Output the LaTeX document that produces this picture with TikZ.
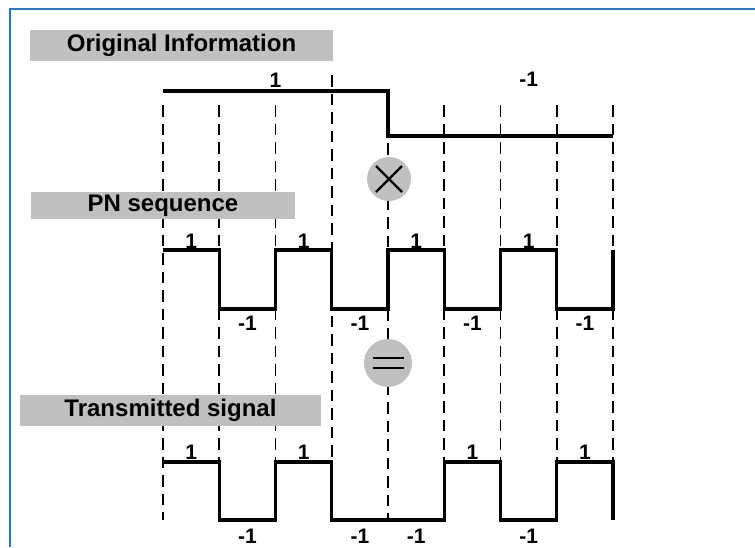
\documentclass[tikz,border=0pt]{standalone}
\usepackage{fontspec}
\setmainfont{Liberation Sans}

\definecolor{boxgray}{RGB}{192,192,192}
\definecolor{frameblue}{RGB}{31,122,212}

\tikzset{
    chipline/.style={line width=1.6pt, dash pattern=on 11.5pt off 7pt},
    wave/.style={line width=3.2pt, line join=miter},
    titlebox/.style={fill=boxgray, inner sep=0pt, font=\fontsize{24}{24}\selectfont\bfseries},
    lvl/.style={inner sep=0pt, font=\fontsize{21}{21}\selectfont\bfseries},
    opcircle/.style={circle, fill=boxgray, inner sep=0pt}
}

\begin{document}
\begin{tikzpicture}[x=1pt, y=-1pt]
    % Left edge of the time axis and the width of one chip
    \def\xo{163}
    \def\chip{56.25}

    % High and low levels of the three signals
    \def\infohi{91}
    \def\infolo{136}
    \def\pnhi{250}
    \def\pnlo{309}
    \def\txhi{462}
    \def\txlo{520}

    \useasboundingbox (0, 0) rectangle (755, 547);

    % Frame, only its left and top edges are seen
    \draw[frameblue, line width=2pt] (10, 547) -- (10, 9) -- (755, 9);

    % Chip boundaries
    \draw[chipline] (\xo, 105) -- (\xo, \txlo);
    \draw[chipline] (\xo + \chip, 105) -- (\xo + \chip, \txlo);
    \draw[chipline] (\xo + 2*\chip, 105) -- (\xo + 2*\chip, \txlo);
    \draw[chipline] (\xo + 3*\chip, 75) -- (\xo + 3*\chip, \txlo);
    \draw[chipline] (\xo + 4*\chip, 143) -- (\xo + 4*\chip, \txlo);
    \draw[chipline] (\xo + 5*\chip, 105) -- (\xo + 5*\chip, \txlo);
    \draw[chipline] (\xo + 6*\chip, 105) -- (\xo + 6*\chip, \txlo);
    \draw[chipline] (\xo + 7*\chip, 105) -- (\xo + 7*\chip, \txlo);
    \draw[chipline] (\xo + 8*\chip, 105) -- (\xo + 8*\chip, \txlo);

    % Titles
    \node[titlebox, minimum width=303pt, minimum height=31pt] (infobox) at (181.5, 45.5) {Original Information};
    \node[titlebox, minimum width=264pt, minimum height=27pt] (pnbox) at (163, 205.5) {PN sequence};
    \node[titlebox, minimum width=301pt, minimum height=31pt] (txbox) at (170.5, 410.5) {Transmitted signal};

    % Multiply and equals signs
    \node[opcircle, minimum size=44pt] (mult) at (389, 179) {};
    \draw[line width=2.2pt] ([shift={(-13pt,13pt)}]mult.center) -- ([shift={(13pt,-13pt)}]mult.center);
    \draw[line width=2.2pt] ([shift={(-13pt,-13pt)}]mult.center) -- ([shift={(13pt,13pt)}]mult.center);

    \node[opcircle, minimum size=48pt] (equal) at (388, 363) {};
    \draw[line width=2.6pt] ([shift={(-15.5pt,5pt)}]equal.center) -- ([shift={(15.5pt,5pt)}]equal.center);
    \draw[line width=2.6pt] ([shift={(-15.5pt,-5pt)}]equal.center) -- ([shift={(15.5pt,-5pt)}]equal.center);

    % Original information: 1 then -1
    \draw[wave] (\xo, \infohi) -- (\xo + 4*\chip, \infohi) -- (\xo + 4*\chip, \infolo) -- (\xo + 8*\chip, \infolo);

    % PN sequence: 1, -1, 1, -1, ...
    \draw[wave] (\xo, \pnhi) -- (\xo + \chip, \pnhi) -- (\xo + \chip, \pnlo)
        -- (\xo + 2*\chip, \pnlo) -- (\xo + 2*\chip, \pnhi) -- (\xo + 3*\chip, \pnhi) -- (\xo + 3*\chip, \pnlo)
        -- (\xo + 4*\chip, \pnlo) -- (\xo + 4*\chip, \pnhi) -- (\xo + 5*\chip, \pnhi) -- (\xo + 5*\chip, \pnlo)
        -- (\xo + 6*\chip, \pnlo) -- (\xo + 6*\chip, \pnhi) -- (\xo + 7*\chip, \pnhi) -- (\xo + 7*\chip, \pnlo)
        -- (\xo + 8*\chip, \pnlo) -- (\xo + 8*\chip, \pnhi);

    % Transmitted signal: product of the two
    \draw[wave] (\xo, \txhi) -- (\xo + \chip, \txhi) -- (\xo + \chip, \txlo)
        -- (\xo + 2*\chip, \txlo) -- (\xo + 2*\chip, \txhi) -- (\xo + 3*\chip, \txhi) -- (\xo + 3*\chip, \txlo)
        -- (\xo + 5*\chip, \txlo) -- (\xo + 5*\chip, \txhi) -- (\xo + 6*\chip, \txhi) -- (\xo + 6*\chip, \txlo)
        -- (\xo + 7*\chip, \txlo) -- (\xo + 7*\chip, \txhi) -- (\xo + 8*\chip, \txhi) -- (\xo + 8*\chip, \txlo);

    % Levels of the original information
    \node[lvl] (infoa) at (\xo + 2*\chip, 80) {1};
    \node[lvl] (infob) at (\xo + 6.5*\chip, 79) {-1};

    % Levels of the PN sequence
    \node[lvl] (pna) at (\xo + 0.5*\chip, 241) {1};
    \node[lvl] (pnb) at (\xo + 1.5*\chip, 323) {-1};
    \node[lvl] (pnc) at (\xo + 2.5*\chip, 241) {1};
    \node[lvl] (pnd) at (\xo + 3.5*\chip, 323) {-1};
    \node[lvl] (pne) at (\xo + 4.5*\chip, 241) {1};
    \node[lvl] (pnf) at (\xo + 5.5*\chip, 323) {-1};
    \node[lvl] (png) at (\xo + 6.5*\chip, 241) {1};
    \node[lvl] (pnh) at (\xo + 7.5*\chip, 323) {-1};

    % Levels of the transmitted signal
    \node[lvl] (txa) at (\xo + 0.5*\chip, 452) {1};
    \node[lvl] (txb) at (\xo + 1.5*\chip, 536) {-1};
    \node[lvl] (txc) at (\xo + 2.5*\chip, 452) {1};
    \node[lvl] (txd) at (\xo + 3.5*\chip, 536) {-1};
    \node[lvl] (txe) at (\xo + 4.5*\chip, 536) {-1};
    \node[lvl] (txf) at (\xo + 5.5*\chip, 452) {1};
    \node[lvl] (txg) at (\xo + 6.5*\chip, 536) {-1};
    \node[lvl] (txh) at (\xo + 7.5*\chip, 452) {1};
\end{tikzpicture}
\end{document}
